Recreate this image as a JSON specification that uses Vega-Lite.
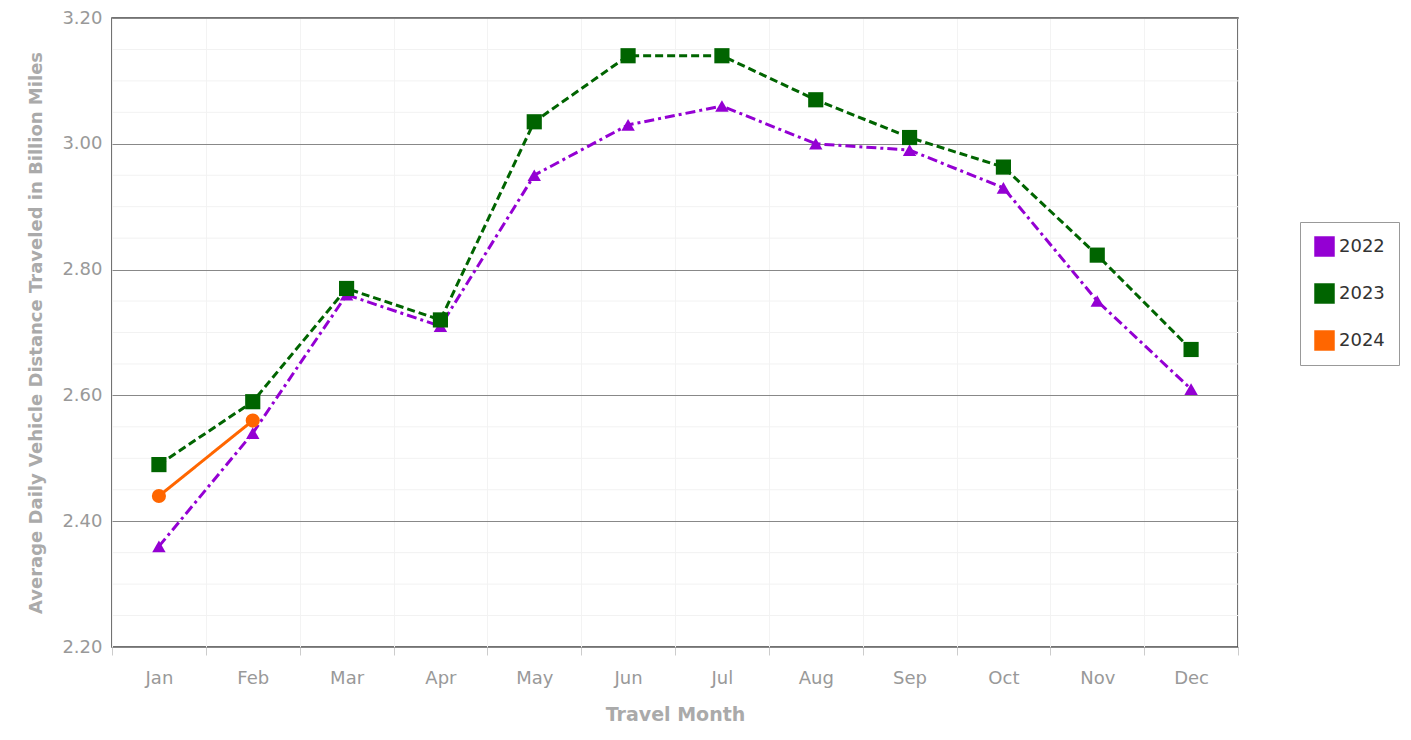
{
  "$schema": "https://vega.github.io/schema/vega-lite/v6.json",
  "width": 1126,
  "height": 629,
  "autosize": "none",
  "padding": {"left": 112, "top": 18, "right": 173, "bottom": 93},
  "background": "white",
  "config": {
    "font": "DejaVu Sans",
    "view": {"stroke": "#444", "strokeWidth": 1.5},
    "axis": {"labelColor": "#999", "labelFontSize": 18, "titleColor": "#aaa", "titleFontSize": 18, "titleFontWeight": "bold"}
  },
  "data": {
    "values": [
      {"m": "Jan", "y": "2022", "v": 2.36}, {"m": "Feb", "y": "2022", "v": 2.54}, {"m": "Mar", "y": "2022", "v": 2.76},
      {"m": "Apr", "y": "2022", "v": 2.71}, {"m": "May", "y": "2022", "v": 2.95}, {"m": "Jun", "y": "2022", "v": 3.03},
      {"m": "Jul", "y": "2022", "v": 3.06}, {"m": "Aug", "y": "2022", "v": 3.0}, {"m": "Sep", "y": "2022", "v": 2.99},
      {"m": "Oct", "y": "2022", "v": 2.93}, {"m": "Nov", "y": "2022", "v": 2.75}, {"m": "Dec", "y": "2022", "v": 2.61},
      {"m": "Jan", "y": "2023", "v": 2.49}, {"m": "Feb", "y": "2023", "v": 2.59}, {"m": "Mar", "y": "2023", "v": 2.77},
      {"m": "Apr", "y": "2023", "v": 2.72}, {"m": "May", "y": "2023", "v": 3.035}, {"m": "Jun", "y": "2023", "v": 3.14},
      {"m": "Jul", "y": "2023", "v": 3.14}, {"m": "Aug", "y": "2023", "v": 3.07}, {"m": "Sep", "y": "2023", "v": 3.01},
      {"m": "Oct", "y": "2023", "v": 2.963}, {"m": "Nov", "y": "2023", "v": 2.823}, {"m": "Dec", "y": "2023", "v": 2.673},
      {"m": "Jan", "y": "2024", "v": 2.44}, {"m": "Feb", "y": "2024", "v": 2.56}
    ]
  },
  "encoding": {
    "x": {
      "field": "m", "type": "ordinal", "sort": null,
      "scale": {"paddingInner": 0, "paddingOuter": 0},
      "axis": {"title": "Travel Month", "labelAngle": 0, "tickBand": "extent", "tickColor": "#ccc", "tickSize": 8, "domain": false, "grid": true, "gridColor": "#f3f3f3", "labelPadding": 14, "titlePadding": 18, "titleFontSize": 19}
    },
    "y": {"field": "v", "type": "quantitative", "scale": {"domain": [2.2, 3.2], "nice": false, "zero": false},
      "axis": {"title": "Average Daily Vehicle Distance Traveled in Billion Miles", "format": ".2f", "values": [2.2, 2.4, 2.6, 2.8, 3.0, 3.2], "gridColor": "#888", "domain": false, "ticks": false, "labelPadding": 10, "titlePadding": 16}},
    "color": {
      "field": "y", "type": "nominal",
      "scale": {"domain": ["2022", "2023", "2024"], "range": ["#9400d3", "#006400", "#ff6600"]},
      "legend": {"title": null, "symbolType": "square", "symbolSize": 420, "symbolStrokeWidth": 0, "labelFontSize": 18, "labelColor": "#333", "rowPadding": 26, "padding": 14, "strokeColor": "#999", "orient": "none", "legendX": 1188, "legendY": 204}
    }
  },
  "layer": [
    {
      "mark": {"type": "rule", "color": "#f2f2f2"},
      "encoding": {"x": null, "color": null},
      "data": {"values": [{"v": 2.25}, {"v": 2.3}, {"v": 2.35}, {"v": 2.45}, {"v": 2.5}, {"v": 2.55}, {"v": 2.65}, {"v": 2.7}, {"v": 2.75}, {"v": 2.85}, {"v": 2.9}, {"v": 2.95}, {"v": 3.05}, {"v": 3.1}, {"v": 3.15}]}
    },
    {
      "mark": {"type": "line", "strokeWidth": 3},
      "encoding": {
        "strokeDash": {"field": "y", "type": "nominal", "legend": null, "scale": {"domain": ["2022", "2023", "2024"], "range": [[10, 4, 3, 4], [8, 4], [1, 0]]}}
      }
    },
    {
      "transform": [{"filter": "datum.y == '2022'"}],
      "mark": {"type": "point", "filled": true, "opacity": 1, "shape": "triangle-up", "size": 180}
    },
    {
      "transform": [{"filter": "datum.y == '2023'"}],
      "mark": {"type": "point", "filled": true, "opacity": 1, "shape": "square", "size": 230}
    },
    {
      "transform": [{"filter": "datum.y == '2024'"}],
      "mark": {"type": "point", "filled": true, "opacity": 1, "shape": "circle", "size": 200}
    }
  ]
}
